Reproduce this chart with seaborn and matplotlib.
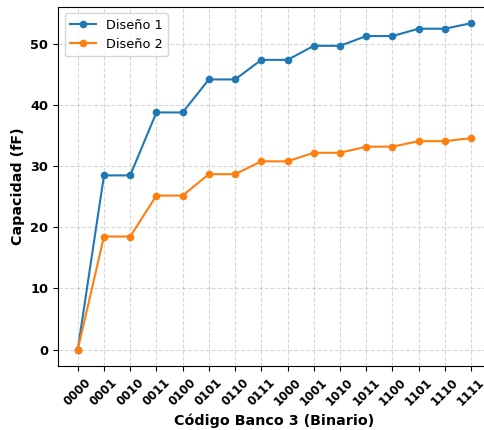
import numpy as np
import pandas as pd
import matplotlib
matplotlib.use("Agg")
import matplotlib.pyplot as plt
import seaborn as sns

codes = ["0000", "0001", "0010", "0011", "0100", "0101", "0110", "0111",
         "1000", "1001", "1010", "1011", "1100", "1101", "1110", "1111"]
diseno1 = [0, 28.5, 28.5, 38.8, 38.8, 44.2, 44.2, 47.4,
           47.4, 49.7, 49.7, 51.3, 51.3, 52.5, 52.5, 53.4]
diseno2 = [0, 18.5, 18.5, 25.2, 25.2, 28.7, 28.7, 30.8,
           30.8, 32.2, 32.2, 33.2, 33.2, 34.1, 34.1, 34.6]

df = pd.DataFrame({
    "idx": list(range(len(codes))) * 2,
    "cap": diseno1 + diseno2,
    "serie": ["Diseño 1"] * len(codes) + ["Diseño 2"] * len(codes),
})

fig = plt.figure(figsize=(4.84, 4.3), dpi=100)
ax = fig.add_axes([0.12, 0.149, 0.894, 0.835])
sns.lineplot(data=df, x="idx", y="cap", hue="serie", marker="o",
             palette=["#1f77b4", "#ff7f0e"], markersize=5.5, markeredgewidth=0,
             linewidth=1.5, ax=ax)

ax.set_xticks(range(len(codes)))
ax.set_xticklabels(codes, rotation=45, fontweight="bold", fontsize=8.5)
for t in ax.get_yticklabels():
    t.set_fontweight("bold")
    t.set_fontsize(9.3)
ax.set_xlabel("Código Banco 3 (Binario)", fontweight="bold", fontsize=10.3)
ax.set_ylabel("Capacidad (fF)", fontweight="bold", fontsize=10.3)
ax.grid(True, linestyle="--", alpha=0.5)
ax.legend(loc="upper left", fontsize=9.3, title=None)

fig.savefig("out.png", dpi=100)
